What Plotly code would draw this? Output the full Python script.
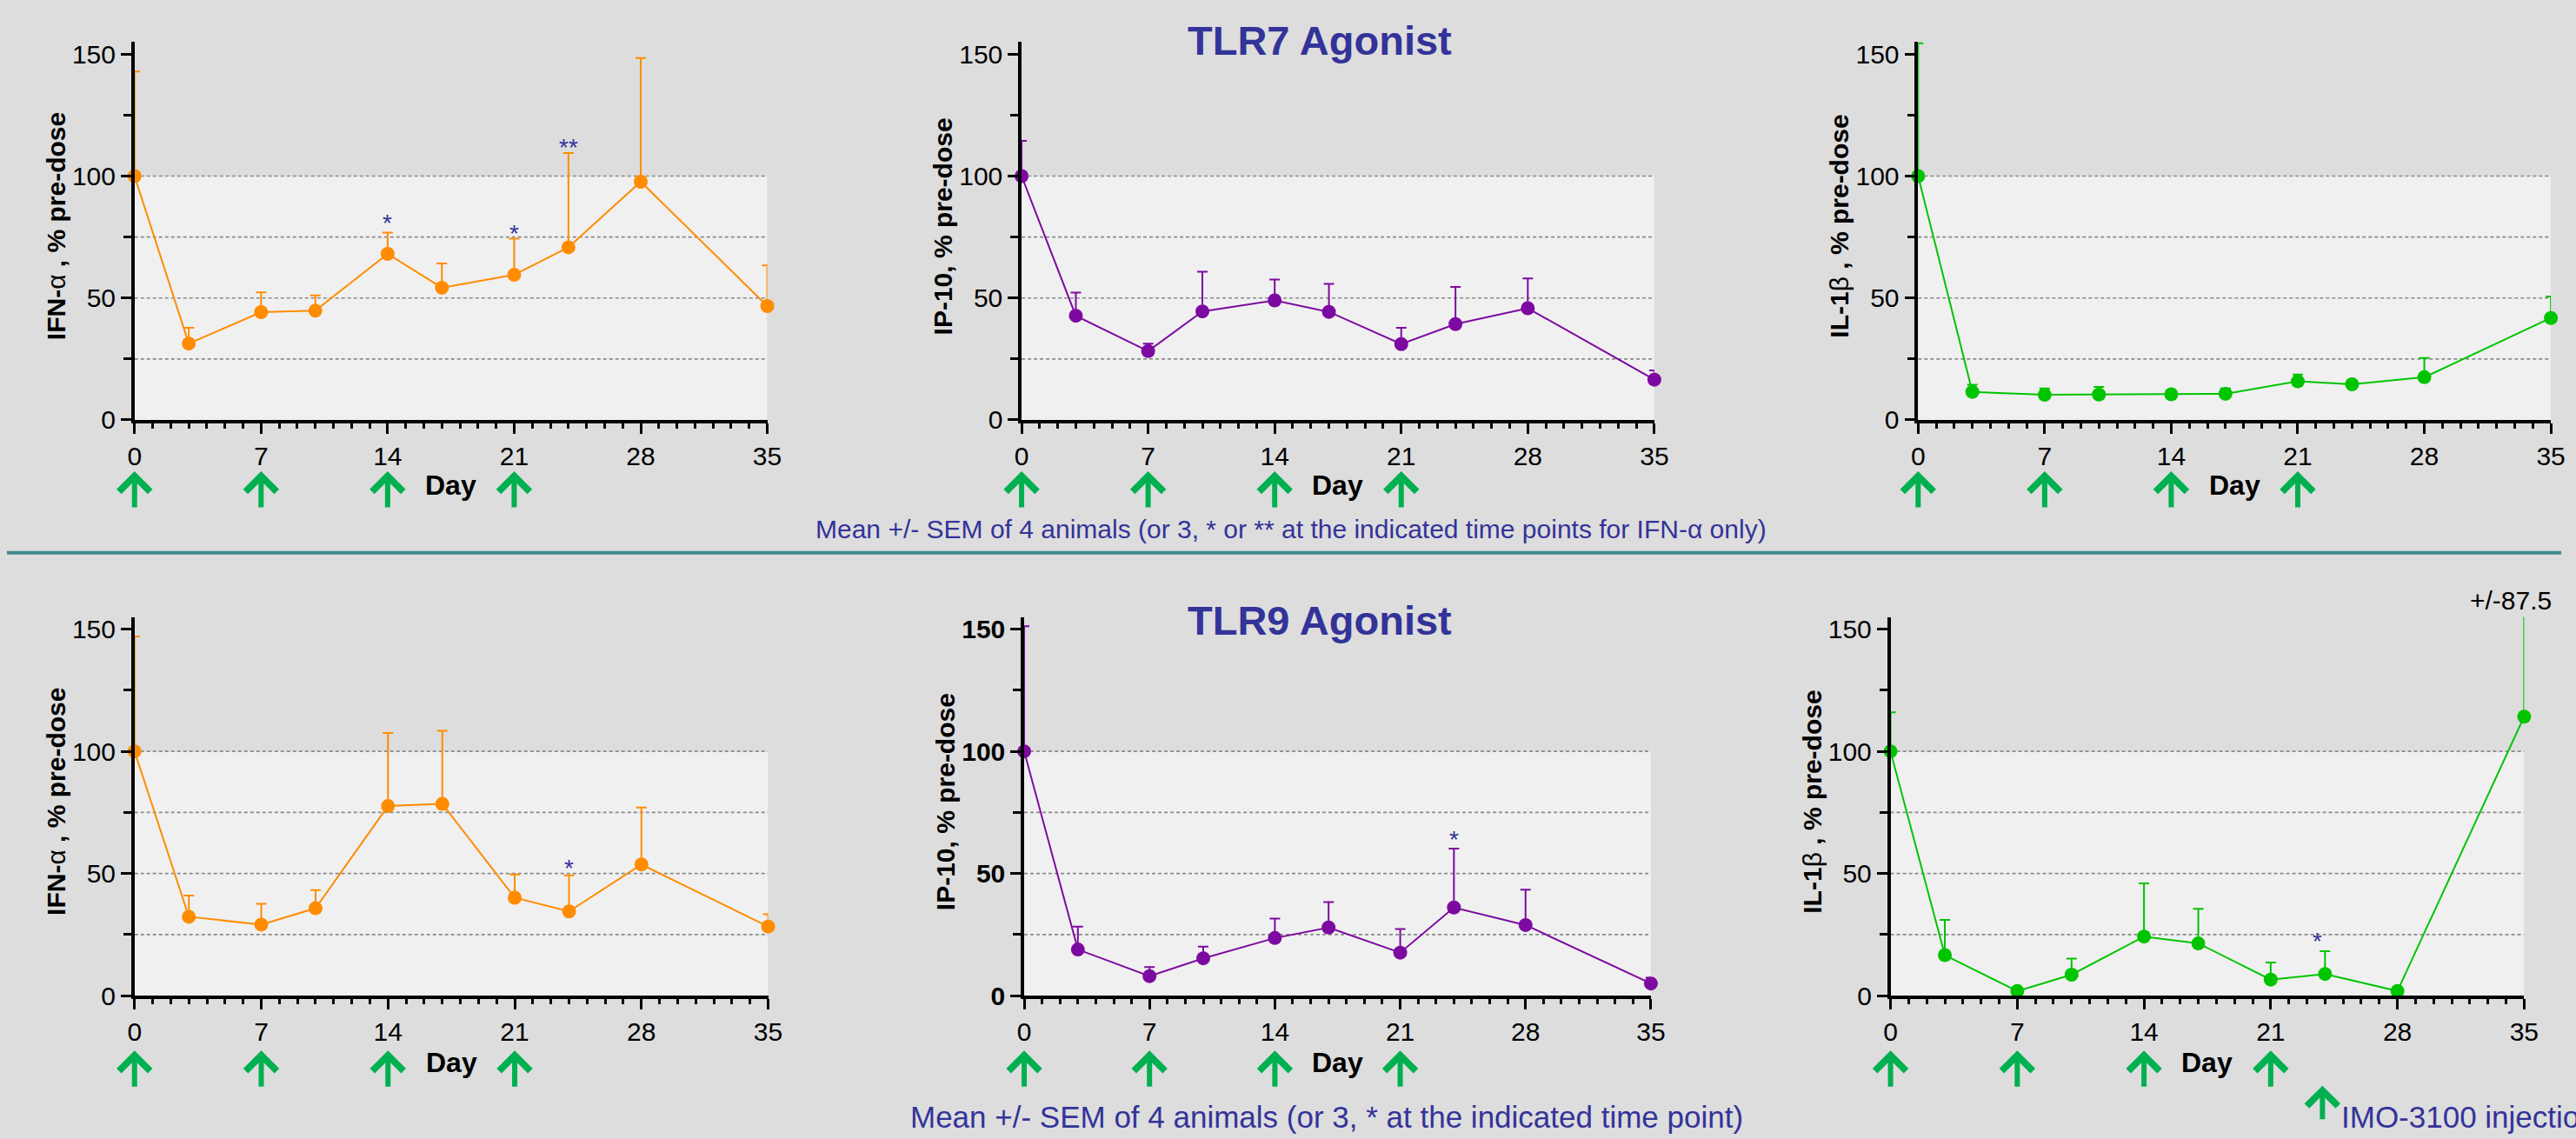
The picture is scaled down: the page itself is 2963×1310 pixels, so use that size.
import plotly.graph_objects as go

# ---------------- data ----------------
days = [0, 3, 7, 10, 14, 17, 21, 24, 28, 35]
injection_days = [0, 7, 14, 21]
x_ticks = [0, 7, 14, 21, 28, 35]
y_ticks = [0, 50, 100, 150]
y_minor = [25, 75, 125]
grid_levels = [25, 50, 75, 100]
shade_top = 100

tlr7_ifna_mean = [100, 31.3, 44.2, 44.8, 68.1, 54.2, 59.5, 70.8, 97.7, 46.7]
tlr7_ifna_sem = [42.9, 6.5, 8.1, 6.3, 8.7, 10.0, 14.8, 38.7, 50.7, 16.7]
tlr7_ip10_mean = [100, 42.7, 28.2, 44.5, 49.0, 44.3, 31.1, 39.3, 45.8, 16.5]
tlr7_ip10_sem = [14.5, 9.5, 3.1, 16.3, 8.6, 11.5, 6.7, 15.2, 12.2, 3.8]
tlr7_il1b_mean = [100, 11.5, 10.3, 10.4, 10.5, 10.7, 15.8, 14.6, 17.5, 41.8]
tlr7_il1b_sem = [54.5, 2.9, 2.6, 3.1, 1.0, 2.2, 2.8, 1.0, 7.9, 8.8]

tlr9_ifna_mean = [100, 32.3, 29.1, 35.8, 77.6, 78.5, 40.1, 34.5, 53.7, 28.3]
tlr9_ifna_sem = [47.0, 8.7, 8.5, 7.4, 29.9, 29.9, 9.5, 14.8, 23.3, 5.0]
tlr9_ip10_mean = [100, 18.9, 8.0, 15.3, 23.6, 27.9, 17.6, 36.1, 28.9, 5.0]
tlr9_ip10_sem = [51.2, 9.4, 3.7, 4.8, 8.0, 10.4, 9.7, 24.1, 14.5, 2.4]
tlr9_il1b_mean = [100, 16.6, 1.9, 8.6, 24.2, 21.4, 6.6, 8.9, 1.9, 114.2]
tlr9_il1b_sem = [16.0, 14.4, 0.5, 6.6, 21.8, 14.2, 7.0, 9.3, 0.5, 87.5]

# significance marks: (day, y, label)
tlr7_ifna_stars = [(14, 83, "*"), (21, 78.5, "*"), (24, 114, "**")]
tlr9_ifna_stars = [(24, 54.4, "*")]
tlr9_ip10_stars = [(24, 66.2, "*")]
tlr9_il1b_stars = [(23.6, 24.4, "*")]

# ---------------- styling ----------------
W, H = 2963, 1310
FONT = "Liberation Sans, Arial, sans-serif"
BG = "#dddddd"
SHADE = "#f0f0f0"
BLUE = "#333399"
ORANGE = "#ff8c00"
PURPLE = "#7d0aa0"
GREEN = "#00c400"
ARROW = "#00b050"


def px_x(p):
    return p / W


def px_y(p):
    return 1 - p / H


top_dom = [px_y(488), px_y(47)]
bot_dom = [px_y(1160), px_y(718)]

panels = [
    dict(mean=tlr7_ifna_mean, sem=tlr7_ifna_sem, color=ORANGE,
         title="<b>IFN-</b>α<b> , % pre-dose</b>", xd=(148, 882), yd=top_dom,
         stars=tlr7_ifna_stars, bold=False),
    dict(mean=tlr7_ip10_mean, sem=tlr7_ip10_sem, color=PURPLE,
         title="<b>IP-10, % pre-dose</b>", xd=(1177, 1911), yd=top_dom,
         stars=[], bold=False),
    dict(mean=tlr7_il1b_mean, sem=tlr7_il1b_sem, color=GREEN,
         title="<b>IL-1</b>β<b> , % pre-dose</b>", xd=(2217, 2951), yd=top_dom,
         stars=[], bold=False),
    dict(mean=tlr9_ifna_mean, sem=tlr9_ifna_sem, color=ORANGE,
         title="<b>IFN-</b>α<b> , % pre-dose</b>", xd=(148, 883), yd=bot_dom,
         stars=tlr9_ifna_stars, bold=False),
    dict(mean=tlr9_ip10_mean, sem=tlr9_ip10_sem, color=PURPLE,
         title="<b>IP-10, % pre-dose</b>", xd=(1180, 1907), yd=bot_dom,
         stars=tlr9_ip10_stars, bold=True),
    dict(mean=tlr9_il1b_mean, sem=tlr9_il1b_sem, color=GREEN,
         title="<b>IL-1</b>β<b> , % pre-dose</b>", xd=(2185, 2920), yd=bot_dom,
         stars=tlr9_il1b_stars, bold=False),
]

fig = go.Figure()
layout = dict(
    width=W, height=H, margin=dict(l=0, r=0, t=0, b=0),
    paper_bgcolor=BG, plot_bgcolor=BG, showlegend=False,
    font=dict(family=FONT, color="black", size=30),
)
shapes = []
annotations = []

for i, p in enumerate(panels, start=1):
    xa = "x" if i == 1 else f"x{i}"
    ya = "y" if i == 1 else f"y{i}"
    xkey = "xaxis" if i == 1 else f"xaxis{i}"
    ykey = "yaxis" if i == 1 else f"yaxis{i}"
    col = p["color"]
    is_top = p["yd"] is top_dom

    # error bars + line (clipped to plot area)
    fig.add_trace(go.Scatter(
        x=days, y=p["mean"], mode="lines", xaxis=xa, yaxis=ya,
        line=dict(color=col, width=2), cliponaxis=True, hoverinfo="skip",
        error_y=dict(type="data", symmetric=False, array=p["sem"],
                     arrayminus=[0] * len(days), color=col, thickness=2, width=6),
    ))
    # markers (not clipped)
    fig.add_trace(go.Scatter(
        x=days, y=p["mean"], mode="markers", xaxis=xa, yaxis=ya,
        marker=dict(color=col, size=16), cliponaxis=False,
    ))

    tickfont = dict(family=FONT, size=30, color="black")
    ytickfont = dict(family=FONT, size=30, color="black")
    if p["bold"]:
        ytickfont["weight"] = "bold"

    layout[xkey] = dict(
        domain=[px_x(p["xd"][0]), px_x(p["xd"][1])], anchor=ya,
        range=[0, 35], tickvals=x_ticks, ticks="outside", ticklen=12,
        tickwidth=3, tickcolor="black", showline=True, linewidth=4,
        linecolor="black", showgrid=False, zeroline=False, tickfont=tickfont,
        minor=dict(dtick=1, tick0=0, ticks="outside", ticklen=6, tickwidth=3,
                   tickcolor="black", showgrid=False),
    )
    layout[ykey] = dict(
        domain=p["yd"], anchor=xa, range=[0, 155], tickvals=y_ticks,
        ticks="outside", ticklen=12, tickwidth=3, tickcolor="black",
        showline=True, linewidth=3.5, linecolor="black", showgrid=False,
        zeroline=False, tickfont=ytickfont,
        minor=dict(tickvals=y_minor, ticks="outside", ticklen=9, tickwidth=3,
                   tickcolor="black", showgrid=False),
    )

    # shaded region and dashed reference lines
    shapes.append(dict(type="rect", xref=xa, yref=ya, x0=0, x1=35, y0=0,
                       y1=shade_top, fillcolor=SHADE, line=dict(width=0),
                       layer="below"))
    for g in grid_levels:
        shapes.append(dict(type="line", xref=xa, yref=ya, x0=0, x1=35, y0=g,
                           y1=g, line=dict(color="#8a8a8a", width=1.6,
                                           dash="4px,3px"), layer="below"))

    # y-axis title
    y_center = (p["yd"][0] + p["yd"][1]) / 2
    annotations.append(dict(
        text=p["title"], xref="paper", yref="paper",
        x=px_x(p["xd"][0] - 91), y=y_center, yshift=5, textangle=-90,
        xanchor="center", yanchor="middle", showarrow=False,
        font=dict(family=FONT, size=30, color="black"),
    ))
    # "Day" label
    row_day_y = px_y(564) if is_top else px_y(1238)
    annotations.append(dict(
        text="<b>Day</b>", xref=f"{xa} domain", yref="paper", x=0.5,
        y=row_day_y, xanchor="center", yanchor="middle", showarrow=False,
        font=dict(family=FONT, size=32, color="black"),
    ))
    # injection arrows
    head_y = px_y(548) if is_top else px_y(1224)
    for d in injection_days:
        annotations.append(dict(
            text="", xref=xa, yref="paper", x=d, y=head_y, ax=0, ay=43,
            showarrow=True, arrowhead=4, arrowsize=1.15, arrowwidth=6,
            arrowcolor=ARROW,
        ))
    # significance stars
    for (sd, sy, st) in p["stars"]:
        annotations.append(dict(
            text=st, xref=xa, yref=ya, x=sd, y=sy, yshift=-6,
            xanchor="center", yanchor="middle", showarrow=False,
            font=dict(family=FONT, size=28, color=BLUE),
        ))

# titles
annotations.append(dict(text="<b>TLR7 Agonist</b>", xref="paper", yref="paper",
                        x=px_x(1523), y=px_y(45), xanchor="center",
                        yanchor="middle", showarrow=False,
                        font=dict(family=FONT, size=47, color=BLUE)))
annotations.append(dict(text="<b>TLR9 Agonist</b>", xref="paper", yref="paper",
                        x=px_x(1523), y=px_y(722), xanchor="center",
                        yanchor="middle", showarrow=False,
                        font=dict(family=FONT, size=47, color=BLUE)))
# footnotes
annotations.append(dict(
    text="Mean +/- SEM of 4 animals (or 3, * or ** at the indicated time points for IFN-α only)",
    xref="paper", yref="paper", x=px_x(1490), y=px_y(615), xanchor="center",
    yanchor="middle", showarrow=False, font=dict(family=FONT, size=30, color=BLUE)))
annotations.append(dict(
    text="Mean +/- SEM of 4 animals (or 3, * at the indicated time point)",
    xref="paper", yref="paper", x=px_x(1531), y=px_y(1301), xanchor="center",
    yanchor="middle", showarrow=False, font=dict(family=FONT, size=35, color=BLUE)))
# IL-1b outlier note
annotations.append(dict(text="+/-87.5", xref="paper", yref="paper",
                        x=px_x(2905), y=px_y(699), xanchor="center",
                        yanchor="middle", showarrow=False,
                        font=dict(family=FONT, size=30, color="black")))
# legend for arrows
annotations.append(dict(text="", xref="paper", yref="paper", x=px_x(2686),
                        y=px_y(1265), ax=0, ay=40, showarrow=True, arrowhead=4,
                        arrowsize=1.15, arrowwidth=6, arrowcolor=ARROW))
annotations.append(dict(text="IMO-3100 injection", xref="paper", yref="paper",
                        x=px_x(2706), y=px_y(1301), xanchor="left",
                        yanchor="middle", showarrow=False,
                        font=dict(family=FONT, size=35, color=BLUE)))

# separator line
shapes.append(dict(type="line", xref="paper", yref="paper", x0=0, x1=1,
                   y0=px_y(643), y1=px_y(643),
                   line=dict(color="#3f8a8c", width=4)))

layout["shapes"] = shapes
layout["annotations"] = annotations
fig.update_layout(**layout)
fig.write_html("out.html")
